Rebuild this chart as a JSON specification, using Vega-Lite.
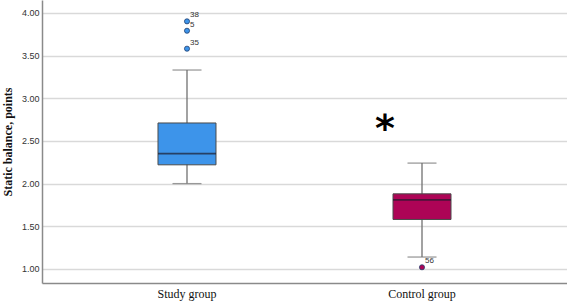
{
  "$schema": "https://vega.github.io/schema/vega-lite/v6.json",
  "width": 525,
  "height": 283,
  "autosize": {"type": "none"},
  "padding": {"left": 42, "top": 0, "right": 0, "bottom": 20},
  "background": "white",
  "config": {
    "view": {"stroke": null},
    "axis": {"domainColor": "#8a8a8a", "domainWidth": 1.5, "ticks": false}
  },
  "datasets": {
    "boxes": [
      {"group": "Study group", "lower": 2.0, "q1": 2.22, "median": 2.35, "q3": 2.71, "upper": 3.33},
      {"group": "Control group", "lower": 1.14, "q1": 1.58, "median": 1.81, "q3": 1.88, "upper": 2.24}
    ],
    "outliers": [
      {"group": "Study group", "value": 3.90, "id": "38"},
      {"group": "Study group", "value": 3.79, "id": "5"},
      {"group": "Study group", "value": 3.58, "id": "35"},
      {"group": "Control group", "value": 1.02, "id": "56"}
    ],
    "sig": [
      {"group": "Control group", "value": 2.71, "label": "*"}
    ]
  },
  "encoding": {
    "x": {
      "field": "group", "type": "nominal",
      "scale": {"domain": ["Study group", "Control group"], "paddingInner": 0, "paddingOuter": 0.117},
      "axis": {"title": null, "labelAngle": 0, "labelFont": "Liberation Serif", "labelFontSize": 12, "labelColor": "#111", "labelPadding": 5, "grid": false}
    }
  },
  "layer": [
    {
      "data": {"name": "boxes"},
      "mark": {"type": "rule", "color": "#707070", "strokeWidth": 1.3},
      "encoding": {
        "y": {
          "field": "lower", "type": "quantitative",
          "scale": {"domain": [0.836, 4.15], "nice": false, "zero": false},
          "axis": {
            "title": "Static balance, points", "titleFont": "Liberation Serif", "titleFontSize": 12, "titleFontWeight": "bold", "titleColor": "#111", "titlePadding": 7,
            "values": [1, 1.5, 2, 2.5, 3, 3.5, 4], "format": ".2f",
            "labelFont": "Liberation Sans", "labelFontSize": 9, "labelColor": "#333", "labelPadding": 3,
            "grid": true, "gridColor": "#d9d9d9", "gridWidth": 1.5
          }
        },
        "y2": {"field": "upper"}
      }
    },
    {
      "data": {"name": "boxes"},
      "mark": {"type": "bar", "size": 58, "stroke": "#4a4a4a", "strokeWidth": 1},
      "encoding": {
        "y": {"field": "q1", "type": "quantitative"},
        "y2": {"field": "q3"},
        "color": {"field": "group", "type": "nominal", "scale": {"domain": ["Study group", "Control group"], "range": ["#3d94ea", "#ad0456"]}, "legend": null}
      }
    },
    {
      "data": {"name": "boxes"},
      "mark": {"type": "tick", "size": 58, "thickness": 1.8, "color": "#1c1c2c"},
      "encoding": {"y": {"field": "median", "type": "quantitative"}}
    },
    {
      "data": {"name": "boxes"},
      "mark": {"type": "tick", "size": 29, "thickness": 1.3, "color": "#707070"},
      "encoding": {"y": {"field": "lower", "type": "quantitative"}}
    },
    {
      "data": {"name": "boxes"},
      "mark": {"type": "tick", "size": 29, "thickness": 1.3, "color": "#707070"},
      "encoding": {"y": {"field": "upper", "type": "quantitative"}}
    },
    {
      "data": {"name": "outliers"},
      "mark": {"type": "point", "filled": true, "size": 26, "opacity": 1, "stroke": "#1f3f6e", "strokeWidth": 0.8},
      "encoding": {
        "y": {"field": "value", "type": "quantitative"},
        "color": {"field": "group", "type": "nominal", "legend": null}
      }
    },
    {
      "data": {"name": "outliers"},
      "mark": {"type": "text", "align": "left", "baseline": "bottom", "dx": 3, "dy": -2, "font": "Liberation Sans", "fontSize": 8, "color": "#333"},
      "encoding": {
        "y": {"field": "value", "type": "quantitative"},
        "text": {"field": "id"}
      }
    },
    {
      "data": {"name": "sig"},
      "mark": {"type": "text", "align": "center", "baseline": "middle", "dx": -37, "dy": 7, "font": "DejaVu Sans", "fontSize": 38, "fontWeight": "bold", "color": "#000"},
      "encoding": {
        "y": {"field": "value", "type": "quantitative"},
        "text": {"field": "label"}
      }
    }
  ]
}
